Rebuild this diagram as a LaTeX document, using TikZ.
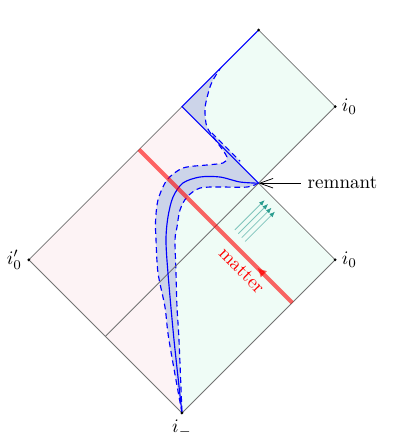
\documentclass[tikz,border=0pt]{standalone}
\usepackage{amsmath}
\usetikzlibrary{arrows.meta,positioning,decorations.markings}

\definecolor{outside}{HTML}{FDF3F5}
\definecolor{inside}{HTML}{EFFCF6}
\definecolor{fuzz}{HTML}{CCD4E9}
\definecolor{hawking}{HTML}{2A9D8F}

\tikzset{
    edge/.style={black!55, thin},
    surface/.style={blue, semithick},
    fuzzline/.style={blue, densely dashed, semithick},
    matterray/.style={red, opacity=0.6, line width=2.1pt},
    radiation/.style={hawking!60, thin, -{Latex[length=3pt,width=2.4pt,color=hawking]}},
}

\begin{document}
\begin{tikzpicture}[x=1.41cm,y=1.41cm]

        \useasboundingbox (-2.376,-0.418) rectangle (3.094,5.392);

        % Corners of the diagram
        \coordinate (im) at (0,0);
        \coordinate (iop) at (-2,2);
        \coordinate (ioa) at (2,4);
        \coordinate (iob) at (2,2);
        \coordinate (top) at (1,5);
        \coordinate (rem) at (1,3);
        \coordinate (hor) at (0,4);
        \coordinate (foot) at (-1,1);

        % Regions
        \fill[inside] (im) -- (iop) -- (top) -- (ioa) -- (rem) -- (iob) -- cycle;
        \fill[outside] plot[smooth] coordinates {(0,0) (-0.104,0.953) (-0.183,1.828) (-0.209,2.258) (-0.183,2.559) (-0.117,2.820) (0.013,3.003) (0.235,3.081) (0.496,3.081) (0.757,3.016) (1,3)} -- (hor) -- (iop) -- cycle;

        % Fuzzy surface
        \begin{scope}
            \clip (im) -- (iop) -- (top) -- (ioa) -- (rem) -- (iob) -- cycle;
            \fill[fuzz] plot[smooth] coordinates {(0,0) (-0.170,0.953) (-0.222,1.384) (-0.313,1.828) (-0.339,2.258) (-0.345,2.5) (-0.313,2.781) (-0.196,3.042) (0.013,3.198) (0.326,3.238) (0.535,3.264) (0.587,3.342) (0.457,3.538) (0.326,3.734) (0.300,3.956) (0.326,4.112) (0.392,4.321) (0.561,4.582) (0.783,4.804) (1,5)}
                -- (hor) -- (rem)
                -- plot[smooth] coordinates {(1,3) (0.849,2.950) (0.496,2.950) (0.235,2.937) (0.065,2.820) (-0.026,2.650) (-0.065,2.428) (-0.091,2.258) (-0.078,1.828) (-0.065,1.384) (-0.039,0.953) (0,0)} -- cycle;
            \fill[fuzz] (0.39,3.61) -- (0.39,3.656) -- (0.76,3.286) -- (0.76,3.24) -- cycle;
            \draw[fuzzline] plot[smooth] coordinates {(0,0) (-0.170,0.953) (-0.222,1.384) (-0.313,1.828) (-0.339,2.258) (-0.345,2.5) (-0.313,2.781) (-0.196,3.042) (0.013,3.198) (0.326,3.238) (0.535,3.264) (0.587,3.342) (0.457,3.538) (0.326,3.734) (0.300,3.956) (0.326,4.112) (0.392,4.321) (0.561,4.582) (0.783,4.804) (1,5)};
            \draw[fuzzline] plot[smooth] coordinates {(1,3) (0.849,2.950) (0.496,2.950) (0.235,2.937) (0.065,2.820) (-0.026,2.650) (-0.065,2.428) (-0.091,2.258) (-0.078,1.828) (-0.065,1.384) (-0.039,0.953) (0,0)};
            \draw[fuzzline] (0.39,3.656) -- (0.76,3.286);
        \end{scope}

        % Edges
        \draw[edge] (hor) -- (iop) -- (im) -- (iob) -- (rem) -- (ioa) -- (top);
        \draw[edge] (rem) -- (foot);

        % Surface and horizon
        \draw[surface] (top) -- (hor) -- (rem);
        \draw[surface] plot[smooth] coordinates {(0,0) (-0.104,0.953) (-0.183,1.828) (-0.209,2.258) (-0.183,2.559) (-0.117,2.820) (0.013,3.003) (0.235,3.081) (0.496,3.081) (0.757,3.016) (1,3)};

        % Matter
        \coordinate (m1) at (1.44,1.44);
        \coordinate (m2) at (-0.56,3.44);
        \draw[matterray, postaction=decorate,
            decoration={markings, mark=at position 0.23 with {\arrow{Latex[length=5pt,width=5pt]}}}] (m1) -- (m2);
        \node[red, rotate=-45] (mlabel) at (0.78,1.86) {matter};

        % Radiation
        \foreach \k in {0,1,2,3}
        {
            \draw[radiation, shift={(\k*0.045,-\k*0.05)}] (0.69,2.39) -- (1.08,2.78);
        }

        % Points
        \foreach \p in {im,iop,ioa,iob,top}
        {
            \fill (\p) circle (0.8pt);
        }

        % Labels
        \node[right] (lioa) at (ioa) {$i_0$};
        \node[right] (liob) at (iob) {$i_0$};
        \node[left] (liop) at (iop) {$i'_0$};
        \node[below] (lim) at (im) {$i_-$};
        \node[right=0.78cm of rem] (lrem) {remnant};
        \draw[-{Straight Barb[length=7pt,width=5pt]}] (lrem) -- (rem);

    \end{tikzpicture}
\end{document}
